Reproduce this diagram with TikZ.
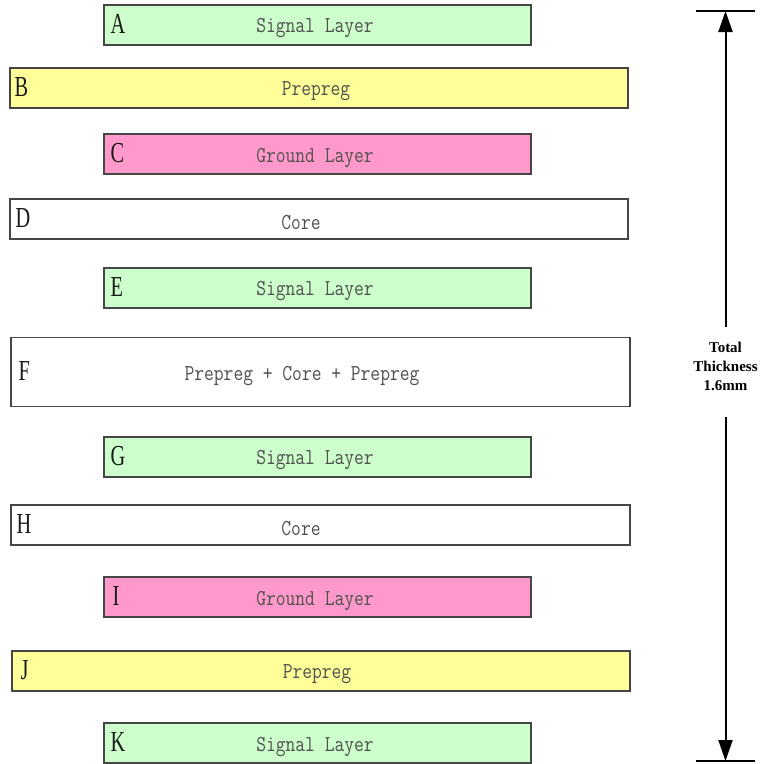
\documentclass[tikz,border=0pt]{standalone}
\usepackage{fontspec}
\usetikzlibrary{arrows.meta}
\newfontfamily\thkfont{Liberation Serif}
\definecolor{sig}{RGB}{204,255,204}
\definecolor{pre}{RGB}{255,255,153}
\definecolor{gnd}{RGB}{255,153,204}
\definecolor{edge}{RGB}{70,70,70}
\definecolor{txt}{RGB}{80,80,80}
\newcommand\lettr[1]{\scalebox{0.7}[1]{\thkfont\fontsize{29}{29}\selectfont #1}}
\newcommand\midtxt[1]{\scalebox{1}[1.2]{\fontsize{19}{19}\selectfont\ttfamily #1}}
\tikzset{
  layer/.style={draw=edge, line width=1.3pt, rectangle, inner sep=0pt},
  short/.style={layer, minimum width=427pt, minimum height=40pt},
  lett/.style={anchor=west, inner sep=0pt, text=black!90},
  ltext/.style={inner sep=0pt, text=txt},
  arr/.style={line width=2pt, -{Triangle[width=14pt,length=21pt]}},
  bar/.style={line width=2.6pt},
}
\begin{document}
\begin{tikzpicture}[x=1pt,y=-1pt]
\useasboundingbox (0,0) rectangle (762,764);
% layers
\node[short, fill=sig] (A) at (317.5,25) {};
\node[layer, fill=pre, minimum width=618pt, minimum height=40pt] (B) at (319,88) {};
\node[short, fill=gnd] (C) at (317.5,154) {};
\node[layer, fill=white, minimum width=618pt, minimum height=40pt] (D) at (319,219) {};
\node[short, fill=sig] (E) at (317.5,288) {};
\node[layer, fill=white, minimum width=619pt, minimum height=69pt] (F) at (320.5,372) {};
\node[short, fill=sig] (G) at (317.5,457) {};
\node[layer, fill=white, minimum width=619pt, minimum height=40pt] (H) at (320.5,525) {};
\node[short, fill=gnd] (I) at (317.5,597) {};
\node[layer, fill=pre, minimum width=618pt, minimum height=40pt] (J) at (321,671) {};
\node[short, fill=sig] (K) at (317.5,743) {};
% letters
\node[lett] (lA) at ([xshift=7pt,yshift=1pt]A.west) {\lettr{A}};
\node[lett] (lB) at ([xshift=5pt,yshift=1pt]B.west) {\lettr{B}};
\node[lett] (lC) at ([xshift=7pt,yshift=1pt]C.west) {\lettr{C}};
\node[lett] (lD) at ([xshift=6pt,yshift=1pt]D.west) {\lettr{D}};
\node[lett] (lE) at ([xshift=7pt,yshift=1pt]E.west) {\lettr{E}};
\node[lett] (lF) at ([xshift=8pt,yshift=1pt]F.west) {\lettr{F}};
\node[lett] (lG) at ([xshift=7pt,yshift=1pt]G.west) {\lettr{G}};
\node[lett] (lH) at ([xshift=6pt,yshift=1pt]H.west) {\lettr{H}};
\node[lett] (lI) at ([xshift=9pt,yshift=1pt]I.west) {\lettr{I}};
\node[lett] (lJ) at ([xshift=9pt,yshift=1pt]J.west) {\lettr{J}};
\node[lett] (lK) at ([xshift=7pt,yshift=1pt]K.west) {\lettr{K}};
% texts
\node[ltext] (tA) at (315,28.5) {\midtxt{Signal Layer}};
\node[ltext] (tB) at (316,91.5) {\midtxt{Prepreg}};
\node[ltext] (tC) at (315,157.5) {\midtxt{Ground Layer}};
\node[ltext] (tD) at (301,222.5) {\midtxt{Core}};
\node[ltext] (tE) at (315,291.5) {\midtxt{Signal Layer}};
\node[ltext] (tF) at (302,376.5) {\midtxt{Prepreg + Core + Prepreg}};
\node[ltext] (tG) at (315,460.5) {\midtxt{Signal Layer}};
\node[ltext] (tH) at (301,528.5) {\midtxt{Core}};
\node[ltext] (tI) at (315,600.5) {\midtxt{Ground Layer}};
\node[ltext] (tJ) at (317,674.5) {\midtxt{Prepreg}};
\node[ltext] (tK) at (315,746.5) {\midtxt{Signal Layer}};
% thickness dimension
\coordinate (tl) at (696,11);
\coordinate (tr) at (755,11);
\coordinate (bl) at (696,761);
\coordinate (br) at (755,761);
\coordinate (top) at (725.5,11);
\coordinate (bot) at (725.5,761);
\coordinate (m1) at (725.5,327);
\coordinate (m2) at (725.5,417);
\draw[bar] (tl) -- (tr);
\draw[bar] (bl) -- (br);
\draw[arr] (m1) -- (top);
\draw[arr] (m2) -- (bot);
\node[align=center, inner sep=0pt, font=\thkfont\bfseries\fontsize{15}{19}\selectfont] (th) at (725.5,366) {Total\\Thickness\\1.6mm};
\end{tikzpicture}
\end{document}
